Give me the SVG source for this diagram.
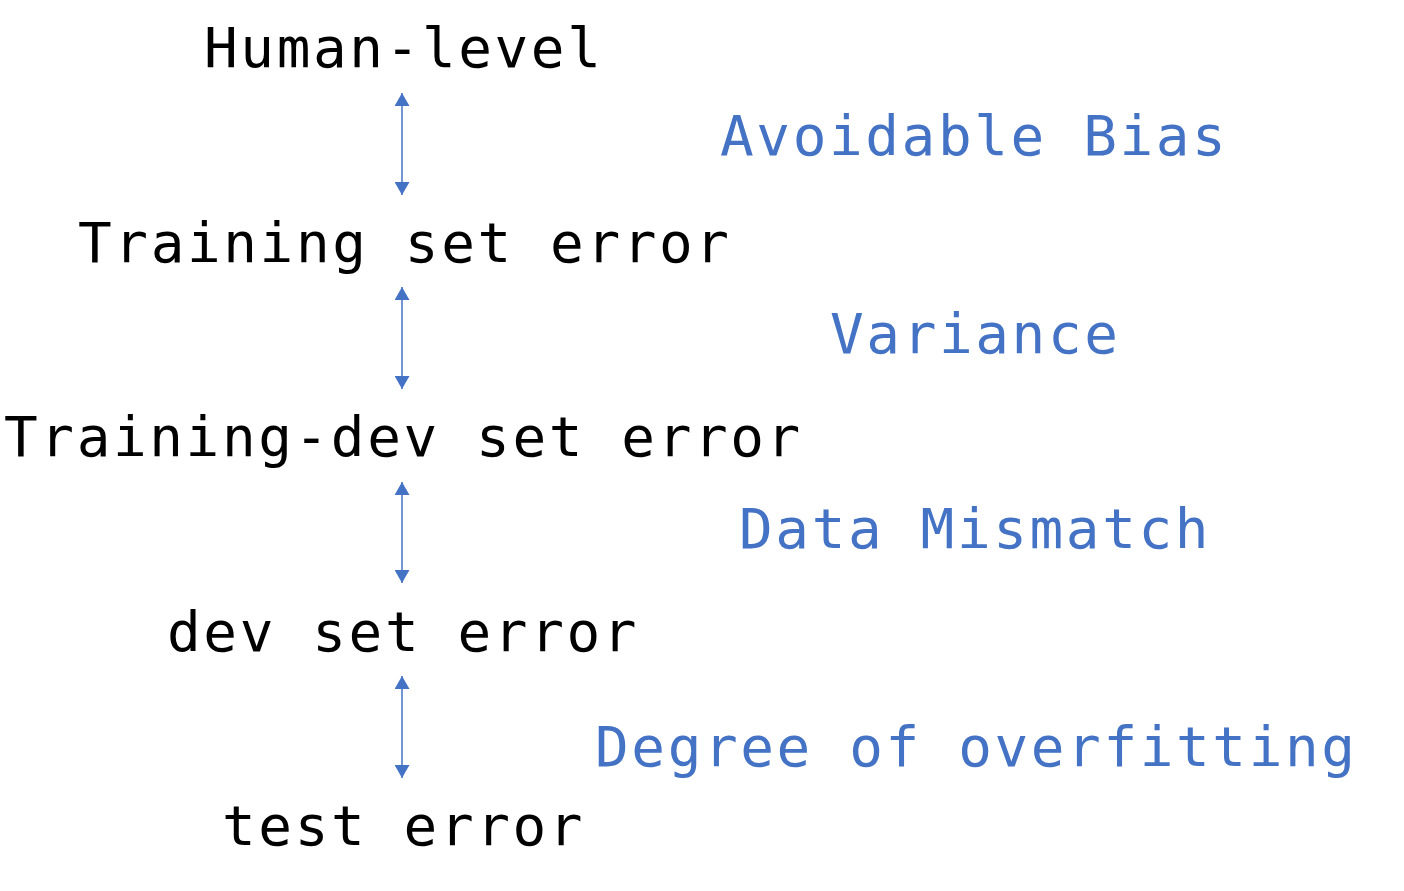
<svg xmlns="http://www.w3.org/2000/svg" width="1404" height="891" viewBox="0 0 1404 891">
<style>
text{font-family:"DejaVu Sans Mono","Liberation Mono",monospace;font-size:56px;letter-spacing:2.6px}
.k{fill:#000}
.b{fill:#4472C4}
.c{stroke:#4472C4;stroke-width:1.5;fill:none}
</style>
<defs>
<marker id="ah" viewBox="0 0 13 15" refX="13" refY="7.5" markerWidth="13" markerHeight="15" markerUnits="userSpaceOnUse" orient="auto-start-reverse">
<path d="M0,0 L13,7.5 L0,15 z" fill="#4472C4"/>
</marker>
</defs>
<rect width="1404" height="891" fill="#fff"/>
<g id="human"><text class="k" x="204" y="67">Human-level</text></g>
<g id="train"><text class="k" x="78" y="262">Training set error</text></g>
<g id="traindev"><text class="k" x="4" y="456">Training-dev set error</text></g>
<g id="dev"><text class="k" x="167" y="651">dev set error</text></g>
<g id="test"><text class="k" x="222" y="845">test error</text></g>
<g id="bias"><text class="b" x="720" y="155">Avoidable Bias</text></g>
<g id="variance"><text class="b" x="830" y="353">Variance</text></g>
<g id="mismatch"><text class="b" x="739" y="548">Data Mismatch</text></g>
<g id="overfit"><text class="b" x="595" y="766">Degree of overfitting</text></g>
<g id="connectors">
<line class="c" x1="402" y1="93" x2="402" y2="195" marker-start="url(#ah)" marker-end="url(#ah)"/>
<line class="c" x1="402" y1="287" x2="402" y2="389" marker-start="url(#ah)" marker-end="url(#ah)"/>
<line class="c" x1="402" y1="482" x2="402" y2="583" marker-start="url(#ah)" marker-end="url(#ah)"/>
<line class="c" x1="402" y1="676" x2="402" y2="778" marker-start="url(#ah)" marker-end="url(#ah)"/>
</g>
</svg>
